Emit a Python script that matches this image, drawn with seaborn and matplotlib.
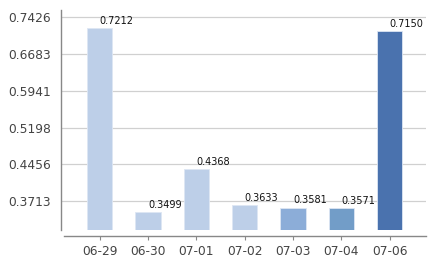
import matplotlib
matplotlib.use("Agg")
import matplotlib.pyplot as plt
import seaborn as sns
import pandas as pd

categories = ["06-29", "06-30", "07-01", "07-02", "07-03", "07-04", "07-06"]
values = [0.7212, 0.3499, 0.4368, 0.3633, 0.3581, 0.3571, 0.7150]
bar_colors = ["#BDCFE8", "#BDCFE8", "#BDCFE8", "#BDCFE8", "#8CADD8", "#729DC8", "#4A72AE"]
ytick_values = [0.3713, 0.4456, 0.5198, 0.5941, 0.6683, 0.7426]
ytick_labels = ["0.3713", "0.4456", "0.5198", "0.5941", "0.6683", "0.7426"]

sns.set_theme(style="white")
plt.rcParams['font.family'] = ['DejaVu Sans']

df = pd.DataFrame({"date": categories, "value": values})

fig = plt.figure(figsize=(4.38, 2.60), dpi=100)
ax = fig.add_axes([61/438, 1 - 230/260, (426 - 61)/438, 220/260])

sns.barplot(data=df, x="date", y="value", hue="date", palette=bar_colors,
            legend=False, width=0.52, ax=ax, saturation=1, zorder=3)
for p in ax.patches:
    p.set_edgecolor("#dde6f3")
    p.set_linewidth(0.6)

ax.set_ylim(0.3127, 0.7574)
ax.set_xlim(-0.8, 6.75)
ax.set_yticks(ytick_values)
ax.set_yticklabels(ytick_labels)
ax.yaxis.grid(True, color="#d0d0d0", linewidth=0.9, zorder=0)
ax.set_axisbelow(True)
ax.set_xlabel("")
ax.set_ylabel("")

for s in ["top", "right"]:
    ax.spines[s].set_visible(False)
ax.spines["left"].set_color("#888888")
ax.spines["left"].set_linewidth(1.0)
ax.spines["bottom"].set_color("#888888")
ax.spines["bottom"].set_linewidth(1.0)
ax.spines["bottom"].set_position(("outward", 4))
ax.spines["bottom"].set_bounds(-0.74, 6.75)

ax.tick_params(axis="y", length=0, pad=7, labelsize=8.8, labelcolor="#444444")
ax.tick_params(axis="x", length=3, width=0.8, color="#888888", direction="out",
               pad=4, labelsize=8.8, labelcolor="#444444", bottom=True)

for i, v in enumerate(values):
    ax.annotate(f"{v:.4f}", xy=(i, v), xytext=(0, 1.5), textcoords="offset points",
                ha="left", va="bottom", fontsize=7, color="#111111")

fig.savefig("out.png", dpi=100)
